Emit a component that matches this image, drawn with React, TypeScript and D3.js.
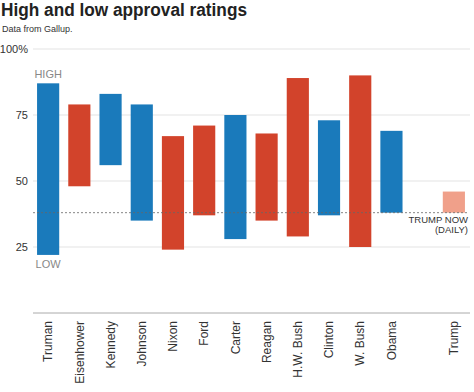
import * as d3 from "d3";
import React from "react";

const presidents = [
  "Truman",
  "Eisenhower",
  "Kennedy",
  "Johnson",
  "Nixon",
  "Ford",
  "Carter",
  "Reagan",
  "H.W. Bush",
  "Clinton",
  "W. Bush",
  "Obama",
  "",
  "Trump",
];
const highs = [87, 79, 83, 79, 67, 71, 75, 68, 89, 73, 90, 69, null, 46];
const lows = [22, 48, 56, 35, 24, 37, 28, 35, 29, 37, 25, 38, null, 38];
const parties = ["D", "R", "D", "D", "R", "R", "D", "R", "R", "D", "R", "D", "", "T"];
const yTicks = [25, 50, 75, 100];
const trumpNow = 38;

const colors: Record<string, string> = {
  D: "#1a7abb",
  R: "#d2432b",
  T: "#f0a08a",
};

const W = 474;
const H = 392;
const font = "'Liberation Sans', Arial, sans-serif";

export default function App() {
  const x = d3
    .scaleBand<number>()
    .domain(d3.range(presidents.length))
    .range([33, 469])
    .paddingInner(0.29)
    .paddingOuter(0.13);
  const y = d3.scaleLinear().domain([0, 100]).range([313, 49]);

  return (
    <svg
      width={W}
      height={H}
      style={{ position: "absolute", left: 0, top: 0, background: "#fff" }}
      fontFamily={font}
    >
      <text
        x={1}
        y={16}
        fontSize={18}
        fontWeight="bold"
        fill="#222"
        textLength={246}
        lengthAdjust="spacingAndGlyphs"
      >
        High and low approval ratings
      </text>
      <text x={2} y={32} fontSize={9} fill="#333">
        Data from Gallup.
      </text>

      {/* gridlines + y tick labels */}
      {yTicks.map((t) => (
        <g key={t}>
          <line x1={33} x2={470} y1={y(t)} y2={y(t)} stroke="#e3e3e3" strokeWidth={1} />
          <text
            x={28}
            y={y(t)}
            dy="0.35em"
            textAnchor="end"
            fontSize={11}
            fill="#333"
          >
            {t === 100 ? "100%" : t}
          </text>
        </g>
      ))}

      {/* bars */}
      {presidents.map((p, i) => {
        const hi = highs[i];
        const lo = lows[i];
        if (hi == null || lo == null) return null;
        return (
          <rect
            key={i}
            x={x(i)}
            width={x.bandwidth()}
            y={y(hi)}
            height={y(lo) - y(hi)}
            fill={colors[parties[i]]}
          />
        );
      })}

      {/* current Trump line */}
      <line
        x1={33}
        x2={469}
        y1={y(trumpNow)}
        y2={y(trumpNow)}
        stroke="#666"
        strokeWidth={0.8}
        strokeDasharray="2,2"
      />
      <text x={468} y={y(trumpNow) + 10} textAnchor="end" fontSize={9.5} fill="#333">
        TRUMP NOW
      </text>
      <text x={468} y={y(trumpNow) + 20.5} textAnchor="end" fontSize={9.5} fill="#333">
        (DAILY)
      </text>

      {/* HIGH / LOW labels */}
      <text
        x={(x(0) ?? 0) + x.bandwidth() / 2}
        y={y(highs[0] as number) - 5}
        textAnchor="middle"
        fontSize={11}
        fill="#888"
      >
        HIGH
      </text>
      <text
        x={(x(0) ?? 0) + x.bandwidth() / 2}
        y={y(lows[0] as number) + 13}
        textAnchor="middle"
        fontSize={11}
        fill="#888"
      >
        LOW
      </text>

      {/* baseline */}
      <line x1={33} x2={470} y1={y(0)} y2={y(0)} stroke="#aaa" strokeWidth={1} />

      {/* x labels */}
      {presidents.map((p, i) =>
        p ? (
          <text
            key={p}
            transform={`translate(${(x(i) ?? 0) + x.bandwidth() / 2},${y(0) + 8}) rotate(-90)`}
            dy="0.35em"
            textAnchor="end"
            fontSize={12}
            fill="#333"
          >
            {p}
          </text>
        ) : null
      )}
    </svg>
  );
}
